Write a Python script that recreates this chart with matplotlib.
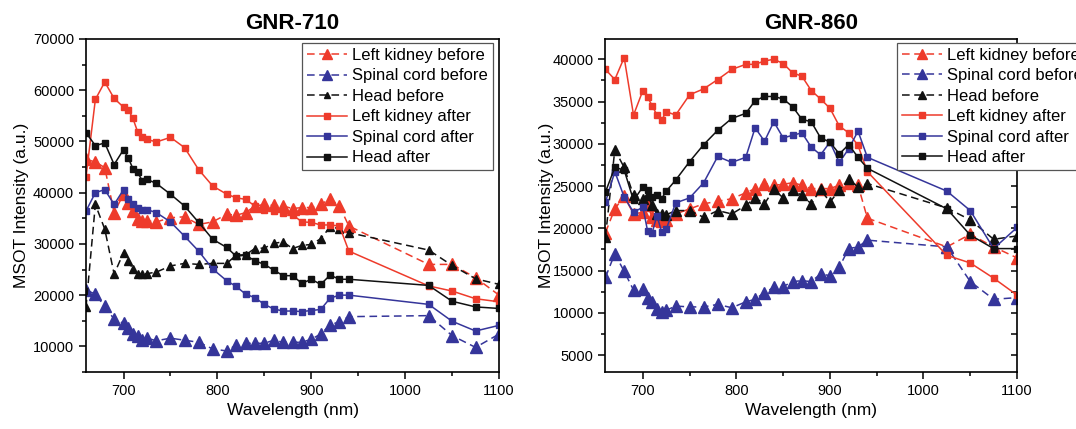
import matplotlib
matplotlib.use('Agg')
import matplotlib.pyplot as plt
from matplotlib.ticker import MultipleLocator

plt.rcParams['font.family'] = ['Liberation Sans', 'DejaVu Sans']

# 파장 (nm)
wl = [660, 670, 680, 690, 700, 705, 710, 715, 720, 725, 735, 750, 765, 780, 795,
      810, 820, 830, 840, 850, 860, 870, 880, 890, 900, 910, 920, 930, 940,
      1025, 1050, 1075, 1100]

# GNR-710 데이터
lk_before_710 = [46500, 46000, 44900, 36100, 39700, 37900, 36400, 34900, 34500, 34500, 34300,
                 35100, 35300, 33800, 34300, 35800, 35600, 36100, 37400, 37700, 37500, 37400,
                 36900, 37100, 37100, 37700, 38800, 37400, 33500, 26000, 26000, 23400, 20000]
sc_before_710 = [21000, 20200, 17800, 15300, 14500, 13500, 12400, 12100, 11200, 11600, 11100,
                 11600, 11200, 10800, 9500, 9100, 10300, 10600, 10600, 10600, 11200, 10800,
                 10800, 10800, 11400, 12400, 14200, 14800, 15800, 16000, 12100, 9800, 12400]
head_before_710 = [17600, 37700, 32900, 24100, 28300, 26700, 25100, 24200, 24100, 24200, 24500,
                   25700, 26200, 26000, 26200, 26200, 27800, 27900, 29100, 29200, 30100, 30400,
                   29100, 29700, 29900, 31000, 33300, 33000, 32200, 28800, 25800, 23200, 22100]
lk_after_710 = [43000, 58200, 61600, 58400, 56700, 56200, 54500, 51900, 50900, 50400, 49900,
                50800, 48800, 44500, 41300, 39700, 39000, 38700, 37400, 36700, 36400, 36100,
                35700, 34300, 34200, 33700, 33700, 33500, 28600, 21800, 20800, 19300, 18700]
sc_after_710 = [36400, 40000, 40600, 37700, 40600, 38700, 37700, 37100, 36600, 36700, 36100,
                34300, 31500, 28600, 25100, 22800, 21700, 20200, 19500, 18200, 17300, 16900,
                16900, 16800, 17000, 17200, 19400, 20000, 20000, 18200, 14900, 13000, 14100]
head_after_710 = [51700, 49200, 49700, 45500, 48400, 46800, 44700, 44000, 42300, 42600, 41800,
                  39700, 37400, 34200, 30900, 29300, 27600, 27800, 26700, 26000, 24900, 23800,
                  23800, 22300, 23100, 22100, 23900, 23100, 23100, 21900, 18800, 17700, 17400]

# GNR-860 데이터
lk_before_860 = [19500, 22300, 23800, 21700, 21900, 22700, 21300, 21000, 20900, 21000, 21700,
                 22300, 22900, 23200, 23500, 24200, 24700, 25300, 25100, 25200, 25400, 25100,
                 24700, 24700, 24700, 25100, 25400, 25100, 21200, 17800, 19300, 17800, 16500]
sc_before_860 = [14200, 17000, 14900, 12700, 12800, 11700, 11300, 10400, 10100, 10300, 10800,
                 10700, 10700, 11000, 10600, 11300, 11600, 12400, 13000, 13100, 13700, 13800,
                 13700, 14600, 14400, 15400, 17600, 17800, 18600, 17800, 13700, 11600, 11800]
head_before_860 = [19000, 29300, 27200, 23900, 23500, 24000, 22700, 21700, 21700, 21600, 22100,
                   22100, 21300, 22100, 21700, 22700, 23600, 22900, 24600, 23600, 24500, 23900,
                   22900, 24600, 23100, 24500, 25800, 24900, 25300, 22400, 21000, 18700, 19100]
lk_after_860 = [38800, 37600, 40200, 33400, 36300, 35500, 34500, 33400, 32800, 33800, 33400,
                35800, 36500, 37600, 38800, 39400, 39400, 39800, 40000, 39500, 38400, 38000,
                36300, 35300, 34200, 32100, 31300, 29800, 26700, 16800, 15900, 14100, 12100]
sc_after_860 = [23100, 26700, 23700, 21900, 22500, 19700, 19500, 21500, 19600, 19900, 23000,
                23600, 25400, 28500, 27800, 28400, 31900, 30300, 32600, 30700, 31000, 31300,
                29600, 28700, 30200, 27800, 29400, 31500, 28400, 24400, 22100, 17600, 20100]
head_after_860 = [24300, 27200, 26900, 23300, 24900, 24500, 23700, 23900, 23500, 24400, 25700,
                  27900, 29900, 31600, 33000, 33600, 35100, 35600, 35600, 35300, 34400, 32900,
                  32600, 30700, 30200, 28800, 29900, 28400, 27100, 22300, 19200, 17600, 17600]

labels = ['Left kidney before', 'Spinal cord before', 'Head before',
          'Left kidney after', 'Spinal cord after', 'Head after']

red = '#ee3b2b'
blue = '#35359a'
black = '#111111'

fig = plt.figure(figsize=(10.76, 4.29), dpi=100)
ax1 = fig.add_axes([0.0799, 0.1329, 0.3839, 0.7762])
ax2 = fig.add_axes([0.5627, 0.1329, 0.3825, 0.7762])


def draw(ax, series, tri_black):
    lkb, scb, hb, lka, sca, ha = series
    ax.plot(wl, lkb, '--', color=red, marker='^', ms=8, lw=1.1, dashes=(5, 3), label=labels[0])
    ax.plot(wl, scb, '--', color=blue, marker='^', ms=8, lw=1.1, dashes=(5, 3), label=labels[1])
    ax.plot(wl, hb, '--', color=black, marker='^', ms=tri_black, lw=1.1, dashes=(5, 3), label=labels[2])
    ax.plot(wl, lka, '-', color=red, marker='s', ms=4.5, lw=1.1, label=labels[3])
    ax.plot(wl, sca, '-', color=blue, marker='s', ms=4.5, lw=1.1, label=labels[4])
    ax.plot(wl, ha, '-', color=black, marker='s', ms=4.5, lw=1.1, label=labels[5])
    ax.set_xlim(660, 1100)
    ax.xaxis.set_major_locator(MultipleLocator(100))
    ax.xaxis.set_minor_locator(MultipleLocator(50))
    ax.tick_params(which='both', direction='out', labelsize=10.5, width=1.1)
    ax.tick_params(which='major', length=5)
    ax.tick_params(which='minor', length=3)
    ax.set_xlabel('Wavelength (nm)', fontsize=12.5)
    ax.set_ylabel('MSOT Intensity (a.u.)', fontsize=12.5)
    for s in ax.spines.values():
        s.set_linewidth(1.2)
    leg = ax.legend(fontsize=12, numpoints=1, handlelength=2.4, handletextpad=0.3,
                    labelspacing=0.33, borderpad=0.3, fancybox=False, framealpha=1,
                    borderaxespad=0, markerscale=0.85)
    leg.get_frame().set_edgecolor('#555555')
    leg.get_frame().set_linewidth(0.9)
    return leg


leg1 = draw(ax1, [lk_before_710, sc_before_710, head_before_710,
                  lk_after_710, sc_after_710, head_after_710], 5.5)
leg1.set_loc('upper right')
leg1.set_bbox_to_anchor((0.985, 0.988), transform=ax1.transAxes)
ax1.set_ylim(5000, 70000)
ax1.set_yticks([10000, 20000, 30000, 40000, 50000, 60000, 70000])
ax1.yaxis.set_minor_locator(MultipleLocator(5000))
ax1.set_title('GNR-710', fontsize=16, fontweight='bold', pad=7)

leg2 = draw(ax2, [lk_before_860, sc_before_860, head_before_860,
                  lk_after_860, sc_after_860, head_after_860], 7.5)
leg2.set_loc('upper left')
leg2.set_bbox_to_anchor((0.7077, 0.989), transform=ax2.transAxes)
ax2.set_ylim(3000, 42400)
ax2.set_yticks([5000, 10000, 15000, 20000, 25000, 30000, 35000, 40000])
ax2.yaxis.set_minor_locator(MultipleLocator(2500))
ax2.set_title('GNR-860', fontsize=16, fontweight='bold', pad=7)

# 오른쪽 축 안쪽 눈금
sec = ax2.secondary_yaxis('right')
sec.set_yticks([5000, 10000, 15000, 20000, 25000, 30000, 35000, 40000])
sec.yaxis.set_minor_locator(MultipleLocator(2500))
sec.tick_params(which='both', direction='in', length=4, width=1.1, labelright=False)
sec.spines['right'].set_visible(False)

ax1.yaxis.set_label_coords(-0.138, 0.5)
ax2.yaxis.set_label_coords(-0.125, 0.5)

fig.savefig('out.png', dpi=100)
